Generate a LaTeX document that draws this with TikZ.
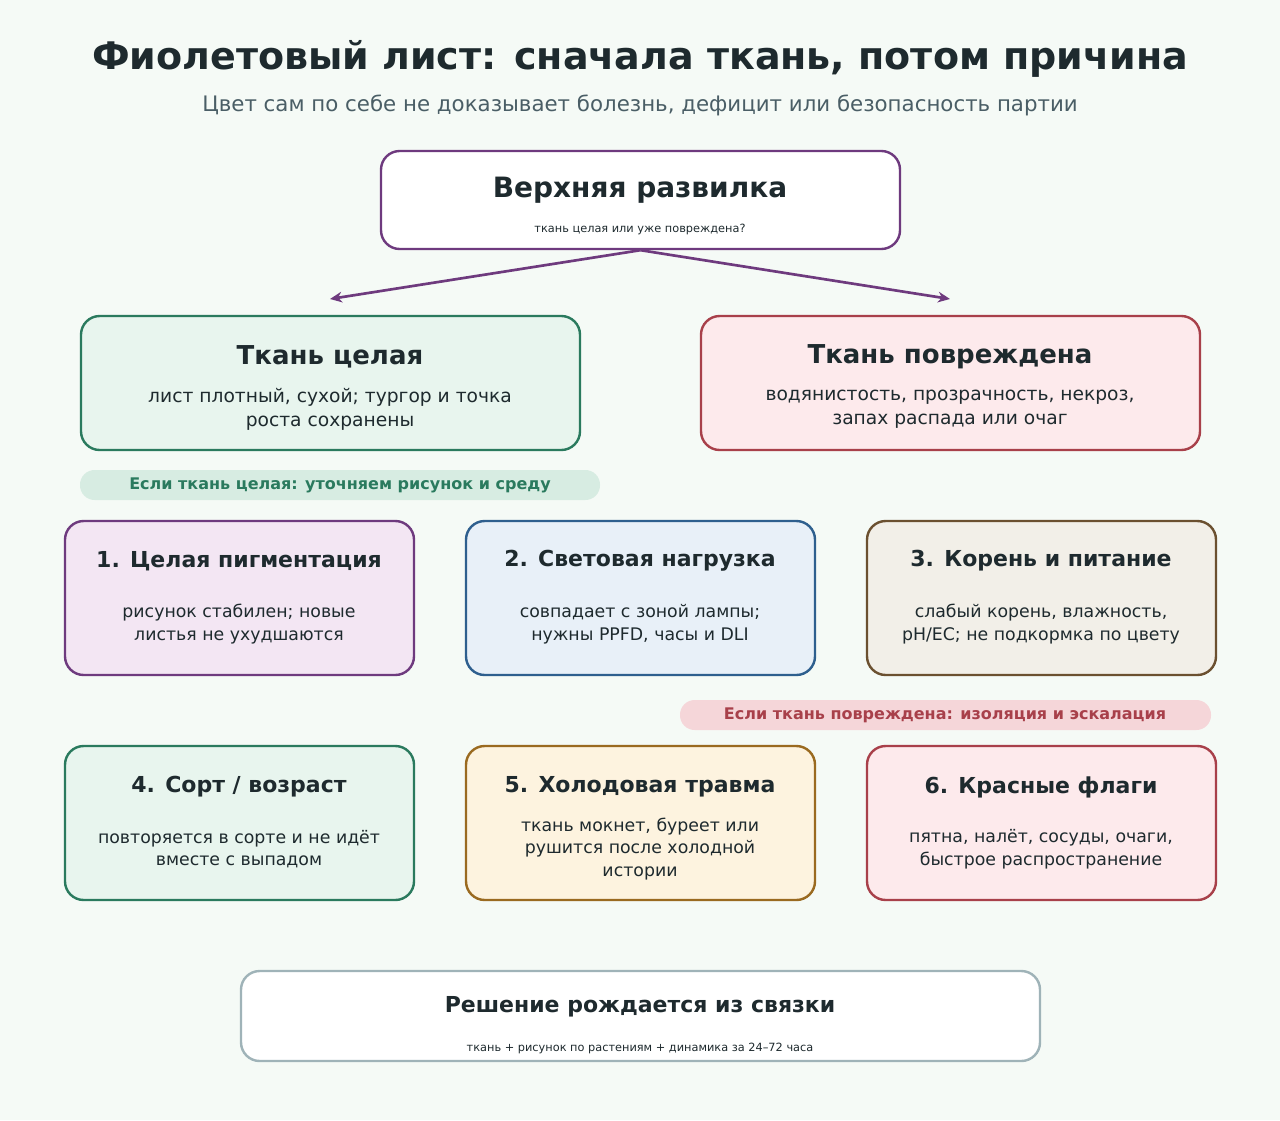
\documentclass[tikz,border=0pt]{standalone}
\usepackage{fontspec}
\setmainfont{DejaVu Sans}
\usetikzlibrary{arrows.meta}
\definecolor{bg}{HTML}{F5FAF6}
\definecolor{ink}{HTML}{1E2A2E}
\definecolor{sub}{HTML}{4A5E66}
\definecolor{pur}{HTML}{6E3A7E}\definecolor{purf}{HTML}{F3E6F3}
\definecolor{grn}{HTML}{2A7A5E}\definecolor{grnf}{HTML}{E8F5EE}
\definecolor{red}{HTML}{A8404A}\definecolor{redf}{HTML}{FDEAEC}
\definecolor{blu}{HTML}{2E5F8E}\definecolor{bluf}{HTML}{E8F0F8}
\definecolor{brn}{HTML}{6B5030}\definecolor{brnf}{HTML}{F2EFE8}
\definecolor{ora}{HTML}{9A6A20}\definecolor{oraf}{HTML}{FDF3DF}
\definecolor{gry}{HTML}{9FB3B8}
\definecolor{pillg}{HTML}{D7ECE2}\definecolor{pillr}{HTML}{F5D6D9}
\tikzset{
 box/.style={draw=#1,line width=1.8pt,rounded corners=14pt,inner sep=0},
 ttl/.style={font=\bfseries\fontsize{#1}{#1}\selectfont,text=ink,align=center},
 bod/.style={font=\fontsize{#1}{\dimexpr #1pt*13/10\relax}\selectfont,text=ink,align=center},
 pill/.style={fill=#1,rounded corners=11pt,inner sep=0},
 arr/.style={draw=pur,line width=2pt,-{Stealth[length=9pt,width=8pt]}}
}
\newcommand{\bx}[6]{\node[box=#5,fill=#6,minimum width=#3*0.75pt,minimum height=#4*0.75pt] (#1) at (#2) {};}
\begin{document}
\begin{tikzpicture}[x=0.75pt,y=-0.75pt]
\fill[bg] (0,0) rectangle (1280,1120);
\useasboundingbox (0,0) rectangle (1280,1120);
\node[ttl=28.5] (title) at (640,59) {Фиолетовый лист: сначала ткань, потом причина};
\node[bod=16,text=sub] (subt) at (640,105) {Цвет сам по себе не доказывает болезнь, дефицит или безопасность партии};
% top
\bx{top}{640.5,200}{519}{98}{pur}{white}
\node[ttl=21] (topt) at (640,190) {Верхняя развилка};
\node[bod=8.5] (topb) at (640,229) {ткань целая или уже повреждена?};
\coordinate (lt) at (330,299); \coordinate (rt) at (950,299);
\draw[arr] (top.south) -- (lt);
\draw[arr] (top.south) -- (rt);
% second row
\bx{L}{330.5,383}{499}{134}{grn}{grnf}
\node[ttl=19.5] (Lt) at (330,357) {Ткань целая};
\node[bod=14] (Lb) at (330,409) {лист плотный, сухой; тургор и точка\\роста сохранены};
\bx{R}{950.5,383}{499}{134}{red}{redf}
\node[ttl=19.5] (Rt) at (950,357) {Ткань повреждена};
\node[bod=14] (Rb) at (950,409) {водянистость, прозрачность, некроз,\\запах распада или очаг};
\node[pill=pillg,minimum width=520*0.75pt,minimum height=30*0.75pt] (p1) at (340,485) {};
\node[font=\bfseries\fontsize{12}{12}\selectfont,text=grn] (p1t) at (340,485) {Если ткань целая: уточняем рисунок и среду};
% row 1
\bx{b1}{239.5,598}{349}{154}{pur}{purf}
\node[ttl=16.5] (b1t) at (239,561) {1. Целая пигментация};
\node[bod=13] (b1b) at (239,624) {рисунок стабилен; новые\\листья не ухудшаются};
\bx{b2}{640.5,598}{349}{154}{blu}{bluf}
\node[ttl=16.5] (b2t) at (640,561) {2. Световая нагрузка};
\node[bod=13] (b2b) at (640,624) {совпадает с зоной лампы;\\нужны PPFD, часы и DLI};
\bx{b3}{1041.5,598}{349}{154}{brn}{brnf}
\node[ttl=16.5] (b3t) at (1041,561) {3. Корень и питание};
\node[bod=13] (b3b) at (1041,624) {слабый корень, влажность,\\pH/EC; не подкормка по цвету};
\node[pill=pillr,minimum width=531*0.75pt,minimum height=30*0.75pt] (p2) at (945.5,715) {};
\node[font=\bfseries\fontsize{12}{12}\selectfont,text=red] (p2t) at (945,715) {Если ткань повреждена: изоляция и эскалация};
% row 2
\bx{b4}{239.5,823}{349}{154}{grn}{grnf}
\node[ttl=16.5] (b4t) at (239,787) {4. Сорт / возраст};
\node[bod=13] (b4b) at (239,849) {повторяется в сорте и не идёт\\вместе с выпадом};
\bx{b5}{640.5,823}{349}{154}{ora}{oraf}
\node[ttl=16.5] (b5t) at (640,787) {5. Холодовая травма};
\node[bod=13] (b5b) at (640,849) {ткань мокнет, буреет или\\рушится после холодной\\истории};
\bx{b6}{1041.5,823}{349}{154}{red}{redf}
\node[ttl=16.5] (b6t) at (1041,787) {6. Красные флаги};
\node[bod=13] (b6b) at (1041,849) {пятна, налёт, сосуды, очаги,\\быстрое распространение};
% bottom
\bx{bot}{640.5,1016}{799}{90}{gry}{white}
\node[ttl=16.5] (bott) at (640,1007) {Решение рождается из связки};
\node[bod=8.5] (botb) at (640,1048) {ткань + рисунок по растениям + динамика за 24–72 часа};
\end{tikzpicture}
\end{document}
